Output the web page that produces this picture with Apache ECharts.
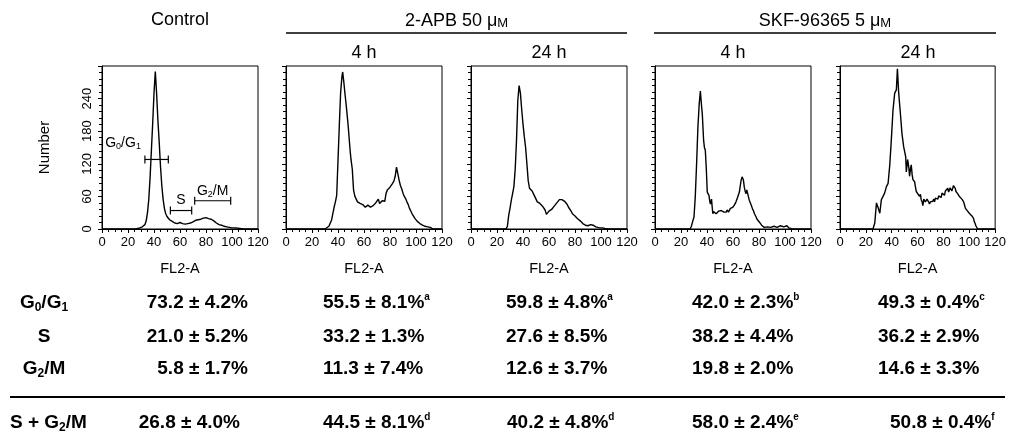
<!DOCTYPE html>
<html>
<head>
<meta charset="utf-8">
<script src="https://cdn.jsdelivr.net/npm/echarts@6/dist/echarts.min.js"></script>
<style>
  html, body { margin: 0; padding: 0; background: #fff; }
  #chart { width: 1009px; height: 437px; }
</style>
</head>
<body>
<div id="chart"></div>
<script>
// panel titles
const groupTitles = ['{n|2-APB 50 μ}{sc|M}', '{n|SKF-96365 5 μ}{sc|M}'];
const panelTitles = ['Control', '4 h', '24 h', '4 h', '24 h'];

// histograms, [FL2-A, count]
const control = [[0,0],[26,0],[29,2],[31,4],[33,8],[34,15],[35,30],[36,55],[37,95],[38,145],[39,195],[40,250],[41,290],[42,250],[43,200],[44,160],[45,115],[46,80],[47,55],[48,38],[49,28],[50,23],[51,20],[52,17],[53,15],[54,14],[55,12],[56,11],[57,10],[58,10],[59,11],[60,12],[61,11],[62,10],[63,11],[64,9],[65,10],[66,10],[67,11],[68,11],[69,12],[70,13],[71,14],[72,16],[73,16],[74,17],[75,18],[76,18],[77,19],[78,20],[79,19],[80,21],[81,22],[82,19],[83,20],[84,18],[85,16],[86,15],[87,13],[88,11],[89,10],[90,8],[92,7],[94,5],[96,4],[98,3],[100,2],[103,2],[106,1],[109,0],[120,0]];
const apb4h = [[0,0],[30,0],[31,1],[33,5],[35,16],[36,28],[37,40],[38,50],[39,62],[40,126],[41,190],[42,250],[43,280],[43.6,289],[44.5,270],[45.4,248],[46.3,228],[47.2,206],[48,185],[48.7,163],[49.5,140],[50,128],[50.5,126],[51,110],[51.5,90],[52,71],[53,60],[54,55],[55,50],[56,49],[57,47],[58,46],[59,45],[60,47],[61,40],[62,42],[63,44],[64,43],[65,40],[66,41],[67,43],[68,45],[69,48],[70,50],[71,55],[72,47],[73,50],[74,52],[75,54],[76,51],[77,66],[78,72],[79,70],[80,77],[81,80],[82,84],[83,88],[84,97],[85,114],[86,102],[87,90],[88,80],[89,74],[90,66],[91,60],[92,56],[93,50],[94,45],[95,38],[96,33],[97,28],[98,24],[99,20],[100,17],[101,14],[102,12],[103,10],[104,8],[105,7],[106,6],[107,5],[108,4],[109,4],[110,5],[111,3],[112,1],[113,0],[120,0]];
const apb24h = [[0,0],[27,0],[28,5],[29,25],[30,38],[31,53],[32,65],[33,78],[34,110],[35,163],[36,236],[37,264],[38,250],[39,220],[40,193],[41,170],[42,150],[43,120],[44,89],[45,75],[46,72],[47,70],[48,68],[49,60],[50,55],[51,50],[52,48],[53,47],[54,44],[55,42],[56,40],[57,35],[58,27],[59,28],[60,33],[61,35],[62,36],[63,38],[64,42],[65,45],[66,48],[67,50],[68,54],[69,53],[70,54],[71,52],[72,51],[73,50],[74,45],[75,40],[76,38],[77,33],[78,28],[79,26],[80,24],[81,22],[82,19],[83,17],[84,15],[85,13],[86,10],[87,9],[88,7],[89,7],[90,6],[91,6],[92,8],[93,10],[94,7],[95,5],[96,4],[97,3],[99,2],[101,2],[103,1],[104,2],[106,0],[120,0]];
const skf4h = [[0,0],[27,0],[28,5],[29,14],[30,22],[31,60],[32,120],[33,187],[34,230],[34.9,254],[35.5,235],[36.4,211],[37.4,163],[38,150],[38.7,145],[39.4,114],[40.2,68],[41,65],[41.5,62],[42.2,50],[42.7,46],[43.5,55],[44,40],[44.5,28],[45,32],[45.8,34],[46.5,30],[47.1,28],[48,30],[49,33],[49.6,34],[50.5,30],[51,34],[52.2,35],[53,31],[54,33],[54.7,31],[55.5,35],[56.5,31],[57.3,33],[58,38],[59,36],[59.8,40],[61,44],[62.3,50],[63.5,58],[64.9,68],[65.5,78],[66.2,89],[67,96],[67.4,97],[68,90],[68.7,77],[69.3,70],[70,65],[70.6,72],[71.2,71],[71.8,60],[72.5,53],[73.2,50],[74,44],[75,37],[75.8,33],[76.5,28],[77.6,23],[78.5,18],[79.5,15],[80.2,13],[81,10],[82,7],[82.7,5],[84,3],[85.2,2],[86.5,4],[87.8,5],[89,3],[90.3,4],[91.5,5],[92.9,6],[94,3],[95.4,4],[96.5,6],[98,6],[99,4],[100.5,4],[101.5,6],[103,2],[104.5,1],[105.6,0],[120,0]];
const skf24h = [[0,0],[25.5,0],[26.9,11],[28.2,48],[29.5,39],[30.8,29],[32,54],[33.3,60],[34.5,66],[35.9,78],[37.2,84],[38.5,118],[39.7,164],[41,219],[42.3,250],[43.6,256],[44.4,295],[45.4,250],[46.7,213],[47.9,176],[49.2,152],[50.2,140],[50.8,133],[51.3,105],[51.8,106],[52.3,128],[52.8,130],[53.3,112],[53.8,97],[54.5,110],[55.1,118],[55.8,100],[56.4,91],[57.7,87],[58.3,78],[59,69],[60.3,66],[61.5,60],[62.2,64],[62.8,54],[63.5,50],[64.1,43],[64.8,55],[65.4,57],[66,50],[66.7,48],[67.3,55],[67.9,54],[68.5,50],[69.2,46],[70,50],[70.5,53],[71.2,48],[71.8,51],[72.5,55],[73.1,50],[73.8,57],[74.4,54],[75,58],[75.7,55],[76.3,61],[77,60],[77.6,64],[78.2,58],[78.9,66],[79.5,63],[80.2,67],[80.8,62],[81.5,70],[82,69],[82.7,73],[83.3,75],[84,68],[84.6,66],[85.2,76],[85.9,78],[86.5,70],[87.2,72],[87.8,80],[88.5,81],[89.1,75],[89.7,69],[90.4,72],[91,65],[91.7,63],[92.3,60],[93,58],[93.6,62],[94.3,55],[94.9,54],[95.6,50],[96.2,45],[97,38],[97.4,35],[98.1,37],[98.7,33],[99.4,30],[100,29],[100.7,30],[101.3,26],[102,24],[102.6,23],[103.2,20],[103.8,14],[104.5,10],[105.1,6],[106.4,0],[120,0]];
const histograms = [control, apb4h, apb24h, skf4h, skf24h];

// gates drawn on the control histogram: [from, to, level]
const gateNames = ['G{s|0}/G{s|1}', 'S', 'G{s|2}/M'];
const gateRanges = [[33, 51, 128], [52.6, 69, 34], [71.3, 99, 52]];

// table: mean, sd, footnote mark per column
const g0g1Mean = [73.2, 55.5, 59.8, 42.0, 49.3];
const g0g1Sd = [4.2, 8.1, 4.8, 2.3, 0.4];
const g0g1Mark = ['', 'a', 'a', 'b', 'c'];
const sMean = [21.0, 33.2, 27.6, 38.2, 36.2];
const sSd = [5.2, 1.3, 8.5, 4.4, 2.9];
const g2mMean = [5.8, 11.3, 12.6, 19.8, 14.6];
const g2mSd = [1.7, 7.4, 3.7, 2.0, 3.3];
const sg2mMean = [26.8, 44.5, 40.2, 58.0, 50.8];
const sg2mSd = [4.0, 8.1, 4.8, 2.4, 0.4];
const sg2mMark = ['', 'd', 'd', 'e', 'f'];
const rowLabels = ['G{s|0}/G{s|1}', 'S', 'G{s|2}/M', 'S + G{s|2}/M'];

// layout
const FONT = '"Liberation Sans", Arial, Helvetica, sans-serif';
const panelLeft = [102, 286, 471, 655, 840];
const panelWidth = 156, panelTop = 66, panelHeight = 163;

const grids = [], xAxes = [], yAxes = [], series = [];
histograms.forEach((hist, i) => {
  grids.push({ left: panelLeft[i], top: panelTop, width: panelWidth, height: panelHeight,
    show: true, borderColor: '#000', borderWidth: 1 });
  xAxes.push({
    type: 'value', gridIndex: i, min: 0, max: 120, interval: 20,
    name: 'FL2-A', nameLocation: 'middle', nameGap: 32,
    nameTextStyle: { fontFamily: FONT, fontSize: 14.5, color: '#000' },
    axisLine: { lineStyle: { color: '#000', width: 1 } },
    axisTick: { length: 4, lineStyle: { color: '#000' } },
    minorTick: { show: true, splitNumber: 4, length: 3, lineStyle: { color: '#000' } },
    axisLabel: { fontFamily: FONT, fontSize: 13, color: '#000', margin: 7 },
    splitLine: { show: false }
  });
  yAxes.push({
    type: 'value', gridIndex: i, min: 0, max: 300, interval: 60,
    name: i === 0 ? 'Number' : '', nameLocation: 'middle', nameGap: 50, nameRotate: 90,
    nameTextStyle: { fontFamily: FONT, fontSize: 15, color: '#000' },
    axisLine: { show: true, lineStyle: { color: '#000', width: 1 } },
    axisTick: { show: true, length: 4, lineStyle: { color: '#000' } },
    minorTick: { show: true, splitNumber: 5, length: 3, lineStyle: { color: '#000' } },
    axisLabel: { show: i === 0, rotate: 90, fontFamily: FONT, fontSize: 13, color: '#000', margin: 8,
      showMaxLabel: false },
    splitLine: { show: false }
  });
  series.push({
    type: 'line', xAxisIndex: i, yAxisIndex: i, data: hist, showSymbol: false,
    lineStyle: { color: '#000', width: 1.4 }, animation: false, silent: true
  });
});

// gate markers with end caps on the control panel
series.push({
  type: 'custom', xAxisIndex: 0, yAxisIndex: 0, animation: false, silent: true,
  data: gateRanges.map((g, k) => [g[0], g[1], g[2], k]),
  renderItem: function (params, api) {
    const a = api.coord([api.value(0), api.value(2)]);
    const b = api.coord([api.value(1), api.value(2)]);
    const k = api.value(3);
    const cap = 4;
    const st = { stroke: '#000', lineWidth: 1.2 };
    const label = k === 0
      ? { x: a[0] - 4, y: a[1] - 16, align: 'right' }
      : { x: (a[0] + b[0]) / 2, y: a[1] - 10, align: 'center' };
    return {
      type: 'group',
      children: [
        { type: 'line', shape: { x1: a[0], y1: a[1], x2: b[0], y2: b[1] }, style: st },
        { type: 'line', shape: { x1: a[0], y1: a[1] - cap, x2: a[0], y2: a[1] + cap }, style: st },
        { type: 'line', shape: { x1: b[0], y1: b[1] - cap, x2: b[0], y2: b[1] + cap }, style: st },
        { type: 'text', style: {
          text: gateNames[k], x: label.x, y: label.y, align: label.align, verticalAlign: 'middle',
          fill: '#000', font: '14px ' + FONT, lineHeight: 16,
          rich: { s: { fontSize: 9, lineHeight: 8, verticalAlign: 'bottom', fontFamily: FONT } }
        } }
      ]
    };
  }
});

// titles and table
const graphics = [];
function addText(text, x, y, opts) {
  graphics.push({ type: 'text', x: x, y: y, silent: true, style: Object.assign({
    text: text, fill: '#000', textAlign: 'center', textVerticalAlign: 'middle'
  }, opts) });
}
function addLine(x1, x2, y, w) {
  graphics.push({ type: 'line', silent: true, shape: { x1: x1, y1: y, x2: x2, y2: y },
    style: { stroke: '#000', lineWidth: w } });
}
const titleFont = '18px ' + FONT;
const titleRich = {
  n: { fontSize: 18, fontFamily: FONT, lineHeight: 22, verticalAlign: 'bottom' },
  sc: { fontSize: 13, fontFamily: FONT, lineHeight: 18.5, verticalAlign: 'bottom' }
};
addText(panelTitles[0], panelLeft[0] + panelWidth / 2, 20, { font: titleFont });
for (let i = 1; i < 5; i++) {
  addText(panelTitles[i], panelLeft[i] + panelWidth / 2, 53, { font: titleFont });
}
const groupSpan = [[panelLeft[1], panelLeft[2] + panelWidth], [panelLeft[3] - 1, panelLeft[4] + panelWidth]];
groupTitles.forEach((t, g) => {
  const [x1, x2] = groupSpan[g];
  addText(t, (x1 + x2) / 2, 19, { font: titleFont, rich: titleRich });
  addLine(x1, x2, 33, 1.5);
});

const tableFont = 'bold 19px ' + FONT;
const tableRich = {
  s: { fontSize: 12, fontWeight: 'bold', fontFamily: FONT, lineHeight: 10, verticalAlign: 'bottom' },
  u: { fontSize: 10, fontWeight: 'bold', fontFamily: FONT, lineHeight: 12, verticalAlign: 'top' }
};
const rowY = [303, 337, 369, 423];
const colAnchor = [[248, 'right'], [323, 'left'], [506, 'left'], [692, 'left'], [878, 'left']];
const lastRowAnchor = [[240, 'right'], [323, 'left'], [507, 'left'], [692, 'left'], [890, 'left']];
const rows = [
  [g0g1Mean, g0g1Sd, g0g1Mark],
  [sMean, sSd, null],
  [g2mMean, g2mSd, null],
  [sg2mMean, sg2mSd, sg2mMark]
];
rows.forEach((row, r) => {
  const [mean, sd, mark] = row;
  if (r < 3) {
    addText(rowLabels[r], 44, rowY[r], { font: tableFont, lineHeight: 22, rich: tableRich });
  } else {
    addText(rowLabels[r], 10, rowY[r], { font: tableFont, lineHeight: 22, rich: tableRich, textAlign: 'left' });
  }
  mean.forEach((m, c) => {
    const anchor = r < 3 ? colAnchor[c] : lastRowAnchor[c];
    let txt = m.toFixed(1) + ' ± ' + sd[c].toFixed(1) + '%';
    if (mark && mark[c]) txt += '{u|' + mark[c] + '}';
    addText(txt, anchor[0], rowY[r], { font: tableFont, lineHeight: 22, rich: tableRich, textAlign: anchor[1] });
  });
});
addLine(10, 1005, 397, 2);

const chart = echarts.init(document.getElementById('chart'), null, { renderer: 'canvas' });
chart.setOption({
  backgroundColor: '#fff',
  animation: false,
  grid: grids,
  xAxis: xAxes,
  yAxis: yAxes,
  series: series,
  graphic: { elements: graphics }
});
</script>
</body>
</html>
